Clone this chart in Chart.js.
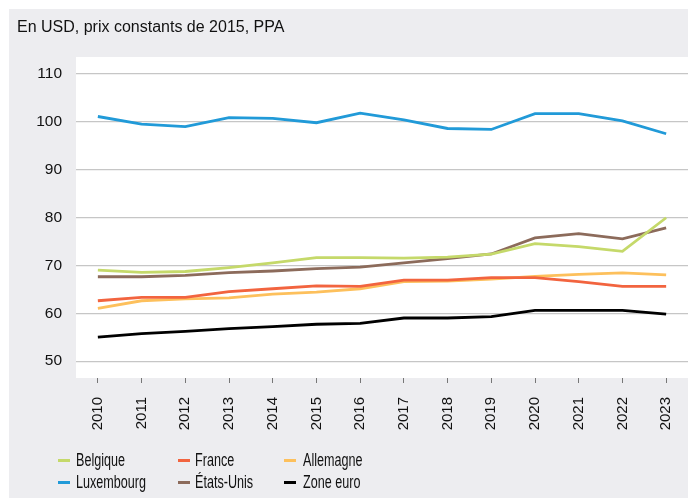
<!DOCTYPE html>
<html>
<head>
<meta charset="utf-8">
<script src="https://cdn.jsdelivr.net/npm/chart.js@4"></script>
<style>
  body { margin: 0; background: #fff; }
  #wrap { position: relative; width: 688px; height: 498px; overflow: hidden; }
  #panel { position: absolute; left: 9px; top: 9px; width: 679px; height: 489px; background: #ededf0; }
  #chartCanvas { position: absolute; left: 0; top: 0; }
  #title { position: absolute; left: 17px; top: 18px; font: 16px "Liberation Sans", Arial, sans-serif; color: #111; }
  #legend { position: absolute; left: 0; top: 449px; font: 17.5px "Liberation Sans", Arial, sans-serif; color: #111; }
  .item { position: absolute; white-space: nowrap; height: 22px; line-height: 22px; }
  .item span.mark { position: absolute; left: 0; top: 10px; width: 12px; height: 3px; }
  .item span.txt { position: absolute; top: 0; transform: scaleX(0.72); transform-origin: 0 0; }
</style>
</head>
<body>
<div id="wrap">
  <div id="panel"></div>
  <canvas id="chartCanvas" width="688" height="498"></canvas>
  <div id="title">En USD, prix constants de 2015, PPA</div>
  <div id="legend"></div>
</div>
<script>
// Years on the x axis
const years = ['2010', '2011', '2012', '2013', '2014', '2015', '2016', '2017', '2018', '2019', '2020', '2021', '2022', '2023'];

// Series values
const belgique   = [69.0, 68.5, 68.7, 69.5, 70.5, 71.6, 71.6, 71.5, 71.7, 72.3, 74.5, 73.9, 72.9, 79.9];
const france     = [62.6, 63.3, 63.3, 64.5, 65.1, 65.7, 65.6, 66.9, 66.9, 67.4, 67.4, 66.6, 65.6, 65.6];
const allemagne  = [61.0, 62.6, 63.0, 63.2, 64.0, 64.4, 65.1, 66.6, 66.7, 67.1, 67.7, 68.1, 68.4, 68.0];
const luxembourg = [101.0, 99.4, 98.9, 100.75, 100.6, 99.7, 101.7, 100.3, 98.5, 98.3, 101.6, 101.6, 100.1, 97.4];
const etatsUnis  = [67.6, 67.6, 67.9, 68.45, 68.8, 69.3, 69.6, 70.5, 71.4, 72.35, 75.7, 76.6, 75.5, 77.8];
const zoneEuro   = [55.0, 55.75, 56.2, 56.8, 57.2, 57.7, 57.9, 59.0, 59.0, 59.3, 60.6, 60.6, 60.6, 59.8];

// Y tick labels
const yTicks = [50, 60, 70, 80, 90, 100, 110];

const series = [
    { label: 'Belgique', data: belgique, color: '#c5d96a' },
    { label: 'France', data: france, color: '#f2643f' },
    { label: 'Allemagne', data: allemagne, color: '#fdc05c' },
    { label: 'Luxembourg', data: luxembourg, color: '#219ad8' },
    { label: 'États-Unis', data: etatsUnis, color: '#8c6b5b' },
    { label: 'Zone euro', data: zoneEuro, color: '#000000' }
];

// white plot area behind the lines
const plotBackground = {
    id: 'plotBackground',
    beforeDraw(chart) {
        const a = chart.chartArea;
        const c = chart.ctx;
        c.save();
        c.fillStyle = '#ffffff';
        c.fillRect(a.left, a.top, a.right - a.left, a.bottom - a.top);
        c.restore();
    }
};

const fontFamily = '"Liberation Sans", Arial, sans-serif';

var ctx = document.getElementById('chartCanvas').getContext('2d');
var chart = new Chart(ctx, {
    type: 'line',
    data: {
        labels: years,
        datasets: series.map(s => ({
            label: s.label,
            data: s.data,
            borderColor: s.color,
            backgroundColor: s.color,
            borderWidth: 2.8,
            pointRadius: 0,
            tension: 0,
            fill: false
        }))
    },
    options: {
        responsive: false,
        animation: false,
        layout: { padding: { top: 57, left: 0, right: 0, bottom: 0 } },
        plugins: {
            legend: { display: false },
            tooltip: { enabled: false }
        },
        scales: {
            x: {
                offset: true,
                grid: { drawOnChartArea: false, drawTicks: true, tickLength: 5, color: '#777', offset: false },
                border: { display: false },
                ticks: {
                    minRotation: 90, maxRotation: 90, padding: 14,
                    color: '#111',
                    font: { family: fontFamily, size: 15 }
                },
                afterFit: function(scale) {
                    scale.height = 120;
                    // no extra room for the rotated end labels
                    scale.paddingLeft = 0;
                    scale.paddingRight = 0;
                }
            },
            y: {
                min: 46.5,
                max: 113.4,
                grid: { color: '#c6c6c6', lineWidth: 1.3, drawTicks: false },
                border: { display: false },
                ticks: {
                    padding: 14,
                    color: '#111',
                    font: { family: fontFamily, size: 15.5 }
                },
                afterBuildTicks: function(scale) {
                    scale.ticks = yTicks.map(v => ({ value: v }));
                },
                afterFit: function(scale) { scale.width = 76; }
            }
        }
    },
    plugins: [plotBackground]
});

// Legend in three columns, two rows
const legendPos = [
    { x: 58, y: 0 }, { x: 178, y: 0 }, { x: 284, y: 0 },
    { x: 58, y: 22 }, { x: 178, y: 22 }, { x: 284, y: 22 }
];
const legend = document.getElementById('legend');
series.forEach(function(s, i) {
    const item = document.createElement('div');
    item.className = 'item';
    item.style.left = legendPos[i].x + 'px';
    item.style.top = legendPos[i].y + 'px';
    const gap = i % 3 === 0 ? 18 : i % 3 === 1 ? 17 : 19;
    item.innerHTML = '<span class="mark" style="background:' + s.color + '"></span>' +
        '<span class="txt" style="left:' + gap + 'px">' + s.label + '</span>';
    legend.appendChild(item);
});
</script>
</body>
</html>
